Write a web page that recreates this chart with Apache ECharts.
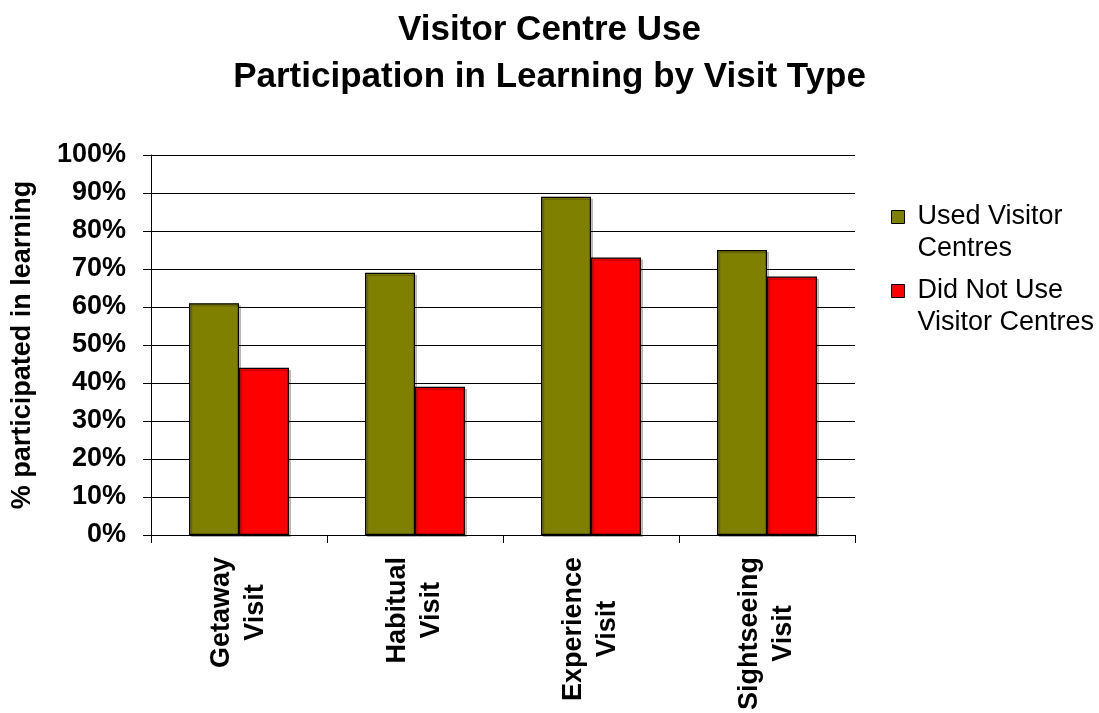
<!DOCTYPE html>
<html>
<head>
<meta charset="utf-8">
<script src="https://cdn.jsdelivr.net/npm/echarts@6/dist/echarts.min.js"></script>
<style>
  html, body { margin: 0; padding: 0; background: #ffffff; }
  #chart { width: 1099px; height: 713px; }
</style>
</head>
<body>
<div id="chart"></div>
<script>
// Chart data
const titleLines = ['Visitor Centre Use', 'Participation in Learning by Visit Type'];
const categories = ['Getaway\nVisit', 'Habitual\nVisit', 'Experience\nVisit', 'Sightseeing\nVisit'];
const seriesNames = ['Used Visitor\nCentres', 'Did Not Use\nVisitor Centres'];
const usedValues = [61, 69, 89, 75];
const notUsedValues = [44, 39, 73, 68];
const yAxisTitle = '% participated in learning';
const yTicks = { min: 0, max: 100, interval: 10 };

const FONT = '"Liberation Sans", Arial, Helvetica, sans-serif';
const colors = ['#808000', '#ff0000'];

const chart = echarts.init(document.getElementById('chart'), null, { renderer: 'canvas' });

// Legend entries: the swatch sits beside the first line of a two-line label,
// so a spacer line above the text shifts the block down by one line.
function legendFor(name, top) {
  return {
    data: [name],
    left: 891,
    top: top,
    padding: 0,
    itemWidth: 13,
    itemHeight: 13,
    itemGap: 0,
    icon: 'rect',
    selectedMode: false,
    itemStyle: { borderColor: '#000000', borderWidth: 1 },
    formatter: (n) => '{s| }\n' + n.split('\n').map(s => '{t|' + s + '}').join('\n'),
    textStyle: {
      rich: {
        s: { fontSize: 10, lineHeight: 32 },
        t: {
          fontFamily: FONT,
          fontSize: 27,
          color: '#000000',
          lineHeight: 32,
          padding: [0, 0, 0, 8]
        }
      }
    }
  };
}

const barStyle = (c) => ({
  color: c,
  borderColor: '#000000',
  borderWidth: 1.2,
  shadowColor: 'rgba(0,0,0,0.22)',
  shadowOffsetX: 2,
  shadowOffsetY: 2,
  shadowBlur: 0
});

chart.setOption({
  animation: false,
  backgroundColor: '#ffffff',
  title: {
    text: titleLines.join('\n'),
    left: 'center',
    top: 2,
    textStyle: {
      fontFamily: FONT,
      fontSize: 35,
      fontWeight: 'bold',
      color: '#000000',
      lineHeight: 47
    }
  },
  legend: [legendFor(seriesNames[0], 180), legendFor(seriesNames[1], 254)],
  grid: { left: 151, right: 244, top: 155, bottom: 177, containLabel: false },
  xAxis: {
    type: 'category',
    data: categories,
    axisLine: { lineStyle: { color: '#000000', width: 1 } },
    axisTick: { show: true, length: 8, lineStyle: { color: '#000000' } },
    axisLabel: {
      rotate: 90,
      margin: 22,
      interval: 0,
      formatter: (v) => v.split('\n').map(s => '{c|' + s + '}').join('\n'),
      rich: {
        c: {
          fontFamily: FONT,
          fontSize: 27,
          fontWeight: 'bold',
          color: '#000000',
          lineHeight: 34,
          align: 'center'
        }
      }
    }
  },
  yAxis: {
    type: 'value',
    min: yTicks.min,
    max: yTicks.max,
    interval: yTicks.interval,
    name: yAxisTitle,
    nameLocation: 'middle',
    nameGap: 115,
    nameTextStyle: {
      fontFamily: FONT,
      fontSize: 27,
      fontWeight: 'bold',
      color: '#000000'
    },
    axisLine: { show: true, lineStyle: { color: '#000000', width: 1 } },
    axisTick: { show: true, length: 8, lineStyle: { color: '#000000' } },
    splitLine: { show: true, lineStyle: { color: '#000000', width: 1 } },
    axisLabel: {
      margin: 25,
      formatter: '{value}%',
      fontFamily: FONT,
      fontSize: 27,
      fontWeight: 'bold',
      color: '#000000'
    }
  },
  series: [
    {
      name: seriesNames[0],
      type: 'bar',
      data: usedValues,
      barWidth: 50,
      barGap: '0%',
      itemStyle: barStyle(colors[0])
    },
    {
      name: seriesNames[1],
      type: 'bar',
      data: notUsedValues,
      barWidth: 50,
      barGap: '0%',
      itemStyle: barStyle(colors[1])
    }
  ]
});
</script>
</body>
</html>
